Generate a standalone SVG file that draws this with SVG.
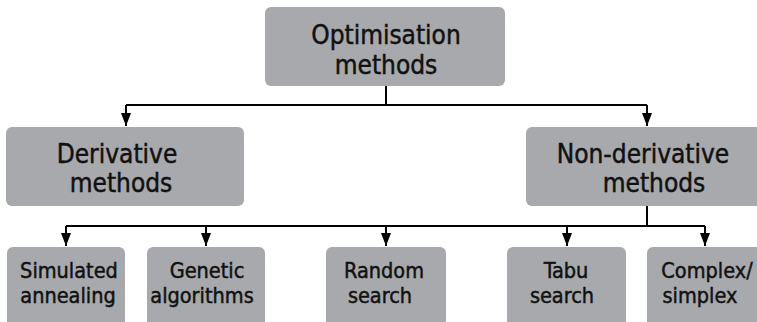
<svg xmlns="http://www.w3.org/2000/svg" width="757" height="322" viewBox="0 0 757 322">
  <defs>
    <style>
      .box { fill: #a7a9ac; }
      .lbl { font-family: "DejaVu Sans Condensed", "DejaVu Sans", sans-serif; font-stretch: condensed; fill: #111; stroke: #111; stroke-width: 0.45; text-anchor: middle; }
      .big { font-size: 26px; }
      .small { font-size: 21.5px; }
      .link { fill: none; stroke: #000; stroke-width: 2; }
    </style>
    <!-- downward-pointing head, tip at the end of the path -->
    <marker id="arrow" viewBox="0 0 13 10" refX="13" refY="5" markerWidth="13" markerHeight="10" markerUnits="userSpaceOnUse" orient="auto">
      <path d="M0,0 L13,5 L0,10 Z" fill="#000"/>
    </marker>
  </defs>

  <g id="connectors">
    <!-- root to second level -->
    <path class="link" d="M386,86 V105"/>
    <path class="link" d="M126,105 H647"/>
    <path class="link" d="M126,105 V126" marker-end="url(#arrow)"/>
    <path class="link" d="M647,105 V126" marker-end="url(#arrow)"/>
    <!-- non-derivative to leaves -->
    <path class="link" d="M647,206 V226"/>
    <path class="link" d="M66,226 H705"/>
    <path class="link" d="M66,226 V246" marker-end="url(#arrow)"/>
    <path class="link" d="M206,226 V246" marker-end="url(#arrow)"/>
    <path class="link" d="M386,226 V246" marker-end="url(#arrow)"/>
    <path class="link" d="M567,226 V246" marker-end="url(#arrow)"/>
    <path class="link" d="M705,226 V246" marker-end="url(#arrow)"/>
  </g>

  <g id="optimisation">
    <rect class="box" x="265" y="7" width="240" height="79" rx="6"/>
    <text class="lbl big" x="386" y="44">Optimisation</text>
    <text class="lbl big" x="386" y="74">methods</text>
  </g>

  <g id="derivative">
    <rect class="box" x="6" y="127" width="238" height="79" rx="6"/>
    <text class="lbl big" x="117" y="163">Derivative</text>
    <text class="lbl big" x="121" y="192">methods</text>
  </g>

  <g id="non-derivative">
    <rect class="box" x="526" y="127" width="242" height="79" rx="6"/>
    <text class="lbl big" x="643" y="163">Non-derivative</text>
    <text class="lbl big" x="654" y="192">methods</text>
  </g>

  <g id="simulated-annealing">
    <rect class="box" x="7" y="247" width="118" height="85" rx="6"/>
    <text class="lbl small" x="69" y="278">Simulated</text>
    <text class="lbl small" x="68" y="303">annealing</text>
  </g>

  <g id="genetic-algorithms">
    <rect class="box" x="147" y="247" width="118" height="85" rx="6"/>
    <text class="lbl small" x="207" y="278">Genetic</text>
    <text class="lbl small" x="202" y="303">algorithms</text>
  </g>

  <g id="random-search">
    <rect class="box" x="326" y="247" width="120" height="85" rx="6"/>
    <text class="lbl small" x="384" y="278">Random</text>
    <text class="lbl small" x="380" y="303">search</text>
  </g>

  <g id="tabu-search">
    <rect class="box" x="507" y="247" width="119" height="85" rx="6"/>
    <text class="lbl small" x="566" y="278">Tabu</text>
    <text class="lbl small" x="562" y="303">search</text>
  </g>

  <g id="complex-simplex">
    <rect class="box" x="647" y="247" width="118" height="85" rx="6"/>
    <text class="lbl small" x="707" y="278">Complex/</text>
    <text class="lbl small" x="700" y="303">simplex</text>
  </g>
</svg>
